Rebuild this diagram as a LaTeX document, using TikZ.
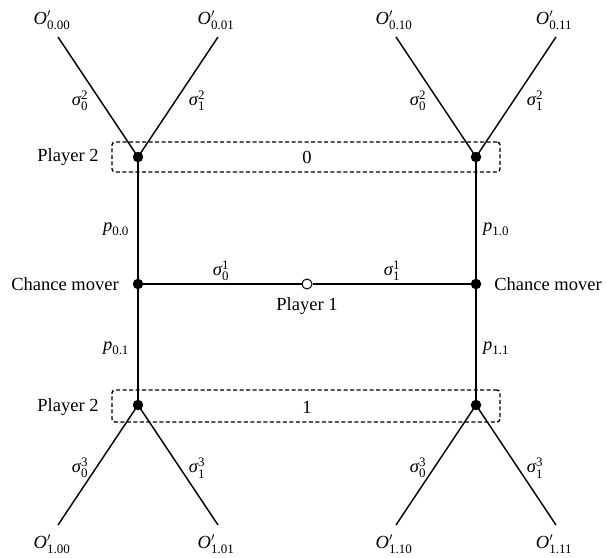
\documentclass[tikz,border=0pt]{standalone}
\usepackage{amsmath}
\usepackage{fontspec}
\setmainfont{Liberation Serif}
\newcommand{\sgm}[2]{$\textit{σ}^{\text{#1}}_{\text{#2}}$}
\newcommand{\Opr}[1]{$\textit{O}'_{\text{#1}}$}
\newcommand{\pp}[1]{$\textit{p}_{\text{#1}}$}
\begin{document}
\begin{tikzpicture}[x=1pt,y=-1pt,
  every node/.style={font=\fontsize{18.5}{22}\selectfont, inner sep=0pt},
  dot/.style={circle, fill=black, minimum size=10.5pt, inner sep=0pt},
  odot/.style={circle, draw=black, fill=white, line width=1pt, minimum size=10pt, inner sep=0pt},
  edge/.style={line width=1.5pt},
  infoset/.style={draw, line width=1.4pt, rounded corners=3pt, dash pattern=on 4pt off 2.5pt}]
\useasboundingbox (0,0) rectangle (607,557);
% information sets
\node[infoset, minimum width=388pt, minimum height=30pt] (set0) at (306,157) {};
\node[infoset, minimum width=388pt, minimum height=32pt] (set1) at (306,406) {};
\node (lab0) at (307,157) {0};
\node (lab1) at (307,407) {1};
% coordinates for leaves
\coordinate (l00) at (58,37);
\coordinate (l01) at (218,37);
\coordinate (l10) at (396,37);
\coordinate (l11) at (556,37);
\coordinate (b00) at (58,525);
\coordinate (b01) at (218,525);
\coordinate (b10) at (396,525);
\coordinate (b11) at (556,525);
% main nodes
\node[dot] (tl) at (138,157) {};
\node[dot] (tr) at (476,157) {};
\node[dot] (cl) at (138,284) {};
\node[dot] (cr) at (476,284) {};
\node[dot] (bl) at (138,405) {};
\node[dot] (br) at (476,405) {};
\node[odot] (p1) at (307,284) {};
% edges
\draw[edge] (p1) -- (cl);
\draw[edge] (p1) -- (cr);
\draw[edge] (cl) -- (tl);
\draw[edge] (cl) -- (bl);
\draw[edge] (cr) -- (tr);
\draw[edge] (cr) -- (br);
\draw[edge] (tl.center) -- (l00);
\draw[edge] (tl.center) -- (l01);
\draw[edge] (tr.center) -- (l10);
\draw[edge] (tr.center) -- (l11);
\draw[edge] (bl.center) -- (b00);
\draw[edge] (bl.center) -- (b01);
\draw[edge] (br.center) -- (b10);
\draw[edge] (br.center) -- (b11);
% leaf labels
\node (o000) at (52,20) {\Opr{0.00}};
\node (o001) at (216,20) {\Opr{0.01}};
\node (o010) at (394,20) {\Opr{0.10}};
\node (o011) at (554,20) {\Opr{0.11}};
\node (o100) at (52,544) {\Opr{1.00}};
\node (o101) at (216,544) {\Opr{1.01}};
\node (o110) at (394,544) {\Opr{1.10}};
\node (o111) at (554,544) {\Opr{1.11}};
% action labels
\node (s20l) at (80,101) {\sgm{2}{0}};
\node (s21l) at (197,101) {\sgm{2}{1}};
\node (s20r) at (418,101) {\sgm{2}{0}};
\node (s21r) at (535,101) {\sgm{2}{1}};
\node (s30l) at (80,468) {\sgm{3}{0}};
\node (s31l) at (197,468) {\sgm{3}{1}};
\node (s30r) at (418,468) {\sgm{3}{0}};
\node (s31r) at (535,468) {\sgm{3}{1}};
\node (s10) at (221,271) {\sgm{1}{0}};
\node (s11) at (392,271) {\sgm{1}{1}};
\node (p00) at (116,229) {\pp{0.0}};
\node (p01) at (116,348) {\pp{0.1}};
\node (p10) at (496,229) {\pp{1.0}};
\node (p11) at (496,348) {\pp{1.1}};
% player labels
\node (pl2t) at (68,157) {Player 2};
\node (pl2b) at (68,407) {Player 2};
\node (cml) at (65,284) {Chance mover};
\node (cmr) at (548,284) {Chance mover};
\node (pl1) at (307,306) {Player 1};
\end{tikzpicture}
\end{document}
